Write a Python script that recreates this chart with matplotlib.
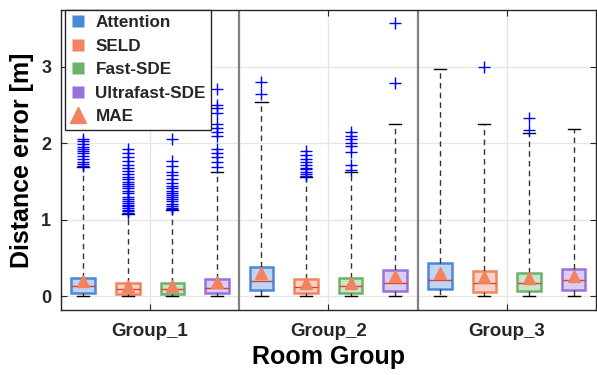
import matplotlib.pyplot as plt
from matplotlib.lines import Line2D
from matplotlib.colors import to_rgba

plt.rcParams['font.family'] = ['Liberation Sans', 'DejaVu Sans']
plt.rcParams['font.weight'] = 'bold'
plt.rcParams['text.color'] = '#262626'

models = ["Attention", "SELD", "Fast-SDE", "Ultrafast-SDE"]
groups = ["Group_1", "Group_2", "Group_3"]
colors = ["#4a88d8", "#f3825f", "#6cb36a", "#9572dc"]
mae_color = "#f3825f"

# rows = room groups, columns = models
q1 = [[0.05, 0.035, 0.035, 0.045],
      [0.08, 0.05, 0.05, 0.07],
      [0.09, 0.06, 0.07, 0.08]]
med = [[0.13, 0.09, 0.09, 0.11],
       [0.20, 0.12, 0.13, 0.18],
       [0.22, 0.17, 0.17, 0.21]]
q3 = [[0.24, 0.17, 0.17, 0.23],
      [0.38, 0.23, 0.24, 0.35],
      [0.43, 0.33, 0.31, 0.36]]
mae = [[0.20, 0.13, 0.135, 0.19],
       [0.30, 0.18, 0.18, 0.27],
       [0.30, 0.25, 0.235, 0.27]]
wlo = [[0.0, 0.0, 0.0, 0.0],
       [0.0, 0.0, 0.0, 0.0],
       [0.0, 0.0, 0.0, 0.0]]
whi = [[1.69, 1.07, 1.13, 1.62],
       [2.54, 1.56, 1.62, 2.25],
       [2.97, 2.25, 2.14, 2.19]]
outliers = [
    [[1.70, 1.73, 1.76, 1.80, 1.83, 1.87, 1.90, 1.92, 1.95, 1.99, 2.03, 2.06],
     [1.09, 1.11, 1.13, 1.15, 1.18, 1.20, 1.22, 1.24, 1.27, 1.30, 1.35, 1.38,
      1.41, 1.44, 1.47, 1.50, 1.53, 1.56, 1.60, 1.64, 1.68, 1.72, 1.77, 1.82,
      1.87, 1.92],
     [1.14, 1.16, 1.18, 1.21, 1.24, 1.27, 1.30, 1.33, 1.35, 1.38, 1.41, 1.44,
      1.48, 1.53, 1.58, 1.63, 1.70, 1.77, 2.05],
     [1.69, 1.76, 1.82, 1.87, 1.92, 2.10, 2.15, 2.20, 2.25, 2.39, 2.46, 2.50,
      2.71]],
    [[2.65, 2.80],
     [1.57, 1.60, 1.63, 1.66, 1.68, 1.71, 1.75, 1.80, 1.85, 1.90],
     [1.65, 1.72, 1.89, 1.96, 2.01, 2.06, 2.10, 2.15],
     [2.79, 3.57]],
    [[],
     [3.0],
     [2.17, 2.33],
     []],
]

fig = plt.figure(figsize=(5.97, 3.75), dpi=100)
ax = fig.add_axes([0.102, 0.173, 0.896, 0.80])

stats, box_colors, positions = [], [], []
pos = 1
for g in range(len(groups)):
    for m in range(len(models)):
        stats.append(dict(q1=q1[g][m], med=med[g][m], q3=q3[g][m],
                          mean=mae[g][m], whislo=wlo[g][m], whishi=whi[g][m],
                          fliers=outliers[g][m]))
        box_colors.append(colors[m])
        positions.append(pos)
        pos += 1

res = ax.bxp(stats, positions=positions, widths=0.53, capwidths=0.27,
             patch_artist=True, showmeans=True, showfliers=True,
             whiskerprops=dict(color='#333333', linestyle=(0, (4, 3)), linewidth=1),
             capprops=dict(color='black', linewidth=1),
             medianprops=dict(color='#d9403a', linewidth=1),
             meanprops=dict(marker='^', markerfacecolor=mae_color,
                            markeredgecolor=mae_color, markersize=8),
             flierprops=dict(marker='+', markeredgecolor='blue',
                             markersize=8, markeredgewidth=1))
for box, c in zip(res['boxes'], box_colors):
    box.set_facecolor(to_rgba(c, 0.35))
    box.set_edgecolor(c)
    box.set_linewidth(1.8)

# separators between room groups
for x in [4.5, 8.5]:
    ax.axvline(x, color='#808080', linewidth=1.6, zorder=1)

ax.set_xlim(0.5, 12.5)
ax.set_ylim(-0.18, 3.74)
ax.set_xticks([2.5, 6.5, 10.5])
ax.set_xticklabels(groups, fontsize=13.5, fontweight='bold')
ax.set_yticks([0, 1, 2, 3])
ax.set_yticklabels(['0', '1', '2', '3'], fontsize=13, fontweight='bold')
ax.tick_params(axis='both', direction='in', top=True, right=True, length=4,
               color='#262626', labelcolor='#262626')
ax.tick_params(axis='x', pad=9)
ax.tick_params(axis='y', pad=7)
ax.grid(True, color='#e6e6e6', linewidth=1)
ax.set_axisbelow(True)
for s in ax.spines.values():
    s.set_color('#262626')
    s.set_linewidth(1)

ax.set_xlabel('Room Group', fontsize=18, fontweight='bold', labelpad=4)
ax.set_ylabel('Distance error [m]', fontsize=18, fontweight='bold', labelpad=5)

handles = [Line2D([], [], marker='s', linestyle='none', markersize=8,
                  markerfacecolor=c, markeredgecolor='none') for c in colors]
handles.append(Line2D([], [], marker='^', linestyle='none', markersize=12,
                      markerfacecolor=mae_color, markeredgecolor=mae_color))
leg = ax.legend(handles, models + ['MAE'], loc='upper left',
                bbox_to_anchor=(0.007, 1.0), borderaxespad=0, fancybox=False,
                framealpha=1, edgecolor='#262626',
                handlelength=1.0, handletextpad=0.5, labelspacing=0.5,
                borderpad=0.3, prop=dict(weight='bold', size=12.3))
leg.get_frame().set_linewidth(1)

fig.savefig('out.png', dpi=100)
